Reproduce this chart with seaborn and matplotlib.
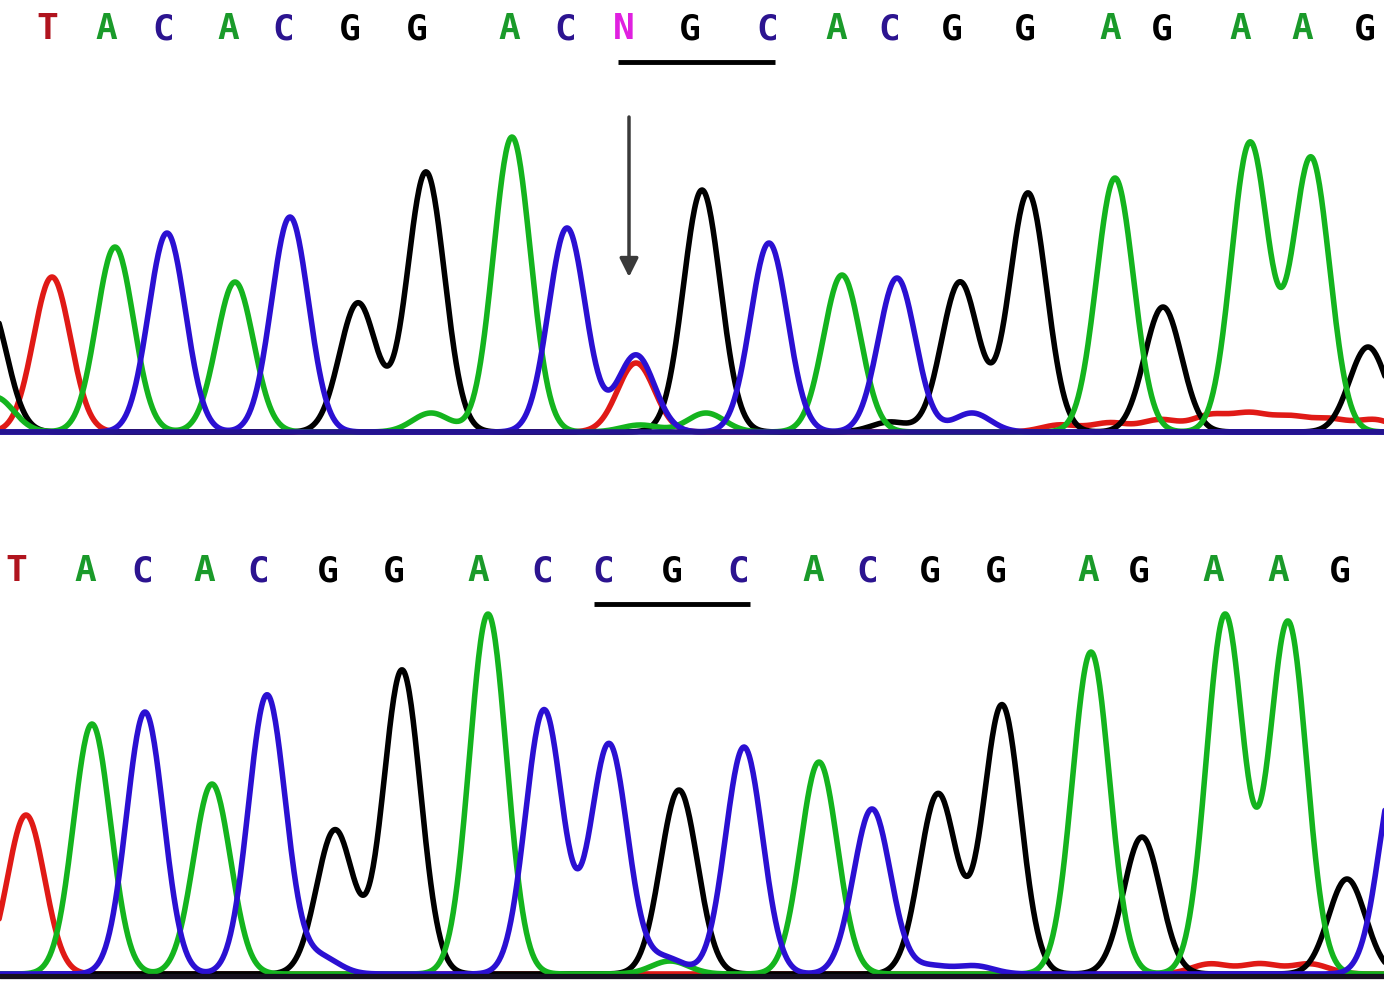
import numpy as np
import pandas as pd
import matplotlib.pyplot as plt
import seaborn as sns

# -------------------------
# Base calls (scan position, letter)
# -------------------------
top_call_pos = [47, 106, 163, 228, 283, 350, 417, 509, 565, 624, 690,
                767, 836, 889, 952, 1025, 1110, 1162, 1240, 1302, 1365]
top_calls = list("TACACGGACNGCACGGAGAAG")

bot_call_pos = [16, 85, 142, 204, 258, 328, 394, 478, 542, 603, 672,
                738, 813, 867, 930, 996, 1088, 1139, 1213, 1278, 1340]
bot_calls = list("TACACGGACCGCACGGAGAAG")

# -------------------------
# Peaks per dye channel: (scan position, signal height)
# -------------------------
top_G = [(-12, 130), (358, 129), (426, 260), (702, 242), (890, 10), (960, 150),
         (1028, 239), (1163, 125), (1368, 85)]
top_A = [(-5, 35), (115, 185), (235, 150), (431, 19), (512, 295), (640, 7),
         (706, 19), (842, 157), (1115, 254), (1250, 289), (1311, 274)]
top_T = [(52, 155), (636, 69), (1060, 7), (1110, 9), (1160, 12), (1210, 16),
         (1250, 17), (1290, 14), (1330, 12), (1375, 12)]
top_C = [(167, 199), (290, 215), (567, 204), (636, 77), (769, 189), (897, 154),
         (972, 19)]

bot_G = [(335, 144), (402, 304), (679, 184), (938, 180), (1002, 269),
         (1142, 137), (1347, 95)]
bot_A = [(92, 250), (212, 190), (488, 360), (670, 13), (819, 212), (1091, 322),
         (1225, 359), (1288, 352)]
bot_T = [(26, 159), (1210, 10), (1260, 10), (1310, 10)]
bot_C = [(145, 262), (267, 279), (320, 17), (544, 264), (609, 230), (665, 16),
         (744, 227), (872, 165), (930, 8), (975, 8), (1398, 210)]

trace_colors = {"G": "#000000", "A": "#14b41e", "T": "#e01a16", "C": "#2b10d2"}
call_colors = {"G": "#000000", "A": "#1a9a2a", "T": "#b0141e", "C": "#2c1490", "N": "#e020e0"}
draw_order = ["T", "G", "A", "C"]

peak_sigma = 18.5
scan = np.linspace(-40, 1424, 1500)


def build_traces(channels):
    rows = []
    for base, peaks in channels.items():
        signal = np.zeros_like(scan)
        for pos, height in peaks:
            signal += height * np.exp(-0.5 * ((scan - pos) / peak_sigma) ** 2)
        rows.append(pd.DataFrame({"scan": scan, "signal": signal, "base": base}))
    return pd.concat(rows, ignore_index=True)


top_df = build_traces({"G": top_G, "A": top_A, "T": top_T, "C": top_C})
bot_df = build_traces({"G": bot_G, "A": bot_A, "T": bot_T, "C": bot_C})

# -------------------------
# Plot setup
# -------------------------
sns.set_style("white")
fig = plt.figure(figsize=(13.84, 9.82), dpi=100)
W, H = 1384, 982
ax_top = fig.add_axes([0, 1 - 445 / H, 1, 445 / H])
ax_bot = fig.add_axes([0, 0, 1, 445 / H])

panels = [
    (ax_top, top_df, top_call_pos, top_calls, (618, 775), (-13, 432)),
    (ax_bot, bot_df, bot_call_pos, bot_calls, (594, 750), (-8, 437)),
]

for ax, df, call_pos, calls, uline, ylim in panels:
    for base in draw_order:
        sns.lineplot(data=df[df["base"] == base], x="scan", y="signal",
                     color=trace_colors[base], estimator=None, sort=False,
                     linewidth=4.0, ax=ax)
    for x, base in zip(call_pos, calls):
        ax.text(x, 403, base, ha="center", va="center", fontsize=26,
                family="DejaVu Sans Mono", fontweight="bold", color=call_colors[base])
    ax.plot(uline, [370, 370], color="black", linewidth=3.5, solid_capstyle="butt")
    ax.set_xlim(0, W)
    ax.set_ylim(*ylim)
    ax.axis("off")

# scan baselines: navy in the upper trace, near-black in the lower one
ax_top.axhline(0, color="#241390", linewidth=4.0, zorder=10)
ax_bot.axhline(-2, color="#16101e", linewidth=3.8, zorder=10)

# arrow pointing at the heterozygous position
ax_top.annotate("", xy=(629, 155), xytext=(629, 315),
                arrowprops=dict(arrowstyle="-|>", color="#3a3a3a", lw=2.5,
                                mutation_scale=28, shrinkA=0, shrinkB=0))

plt.savefig("out.png", dpi=100)
